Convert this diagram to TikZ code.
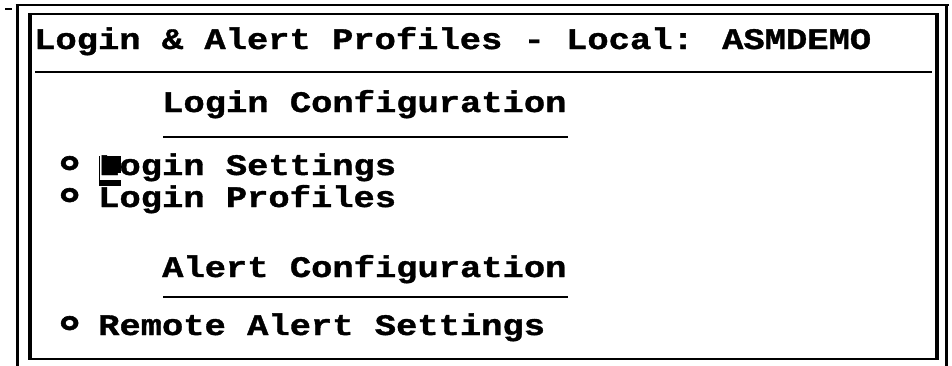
\documentclass[tikz,border=0pt]{standalone}
\usepackage{fontspec}
\newfontfamily\termfont[FakeStretch=1.19,FakeBold=1.2]{Liberation Mono Bold}
\tikzset{
  scr/.style={font=\termfont\fontsize{29.8}{30}\selectfont, anchor=base west, inner sep=0pt, text=black},
  bullet/.style={font=\termfont\fontsize{46}{46}\selectfont, anchor=base west, inner sep=0pt, text=black},
  vline/.style={line width=3.6pt, line cap=butt},
  hline/.style={line width=2pt, line cap=butt},
}
\begin{document}
\begin{tikzpicture}[x=1pt,y=-1pt]
  \useasboundingbox[fill=white] (0,0) rectangle (952,365);
  % small mark at the top left corner
  \draw[hline] (5,9) -- (12,9);
  % outer window frame (bottom edge lies below the visible area)
  \draw[hline] (15.7,5) -- (948.5,5);
  \draw[vline] (17.5,4) -- (17.5,366);
  \draw[vline] (946.5,4) -- (946.5,366);
  % inner panel
  \draw[hline] (28.2,14) -- (938.8,14);
  \draw[hline] (28.2,358.5) -- (938.8,358.5);
  \draw[vline] (30,13) -- (30,359.5);
  \draw[vline] (937,13) -- (937,359.5);
  % title separator
  \draw[hline] (35,72) -- (932,72);

  % title
  \node[scr] (title) at (34,49) {Login \& Alert Profiles - Local: ASMDEMO};

  % login section
  \node[scr] (loginhead) at (162,112) {Login Configuration};
  \draw[hline] (163,137) -- (568,137);
  \node[bullet] (b1) at (53,188) {°};
  \node[scr] (item1) at (98,175) {Login Settings};
  \node[bullet] (b2) at (53,220) {°};
  \node[scr] (item2) at (98,207) {Login Profiles};

  % text cursor on the first item
  \fill[black] (107,156) rectangle (121,173);
  \fill[black] (99,180) rectangle (121,186);
  \draw[line width=1pt] (99.5,156) -- (99.5,186);

  % alert section
  \node[scr] (alerthead) at (162,277) {Alert Configuration};
  \draw[hline] (163,297) -- (568,297);
  \node[bullet] (b3) at (53,348) {°};
  \node[scr] (item3) at (98,335) {Remote Alert Settings};
\end{tikzpicture}
\end{document}
